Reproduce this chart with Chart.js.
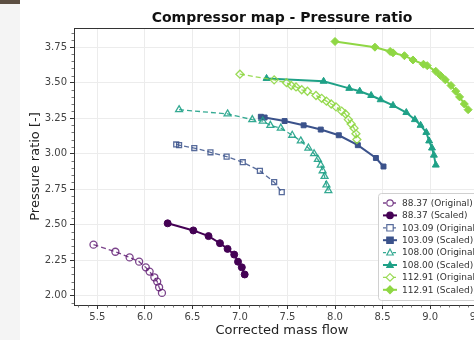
<!DOCTYPE html>
<html>
<head>
<meta charset="utf-8">
<script src="https://cdn.jsdelivr.net/npm/chart.js@4/dist/chart.umd.min.js"></script>
<style>
  html, body { margin: 0; padding: 0; background: #fff; overflow: hidden; }
  #wrap { position: relative; width: 474px; height: 340px; overflow: hidden; }
  #side { position: absolute; left: 0; top: 0; width: 20px; height: 340px; background: #f4f4f4; }
  #side-top { position: absolute; left: 0; top: 0; width: 20px; height: 4px; background: #5c4f42; }
  #box { position: absolute; left: 0; top: 0; width: 500px; height: 340px; }
</style>
</head>
<body>
<div id="wrap">
  <div id="side"></div>
  <div id="side-top"></div>
  <div id="box"><canvas id="map"></canvas></div>
</div>
<script>
// speed lines, original and scaled
const speedLabels = ['88.37', '103.09', '108.00', '112.91'];

const massFlow88Orig = [5.46, 5.69, 5.84, 5.94, 6.01, 6.05, 6.10, 6.13, 6.15, 6.18];
const ratio88Orig = [2.36, 2.31, 2.27, 2.24, 2.20, 2.17, 2.13, 2.10, 2.06, 2.02];
const massFlow88Scaled = [6.24, 6.51, 6.67, 6.79, 6.87, 6.94, 6.98, 7.02, 7.05];
const ratio88Scaled = [2.51, 2.46, 2.42, 2.37, 2.33, 2.29, 2.24, 2.20, 2.15];

const massFlow103Orig = [6.33, 6.36, 6.52, 6.69, 6.86, 7.03, 7.21, 7.36, 7.44];
const ratio103Orig = [3.065, 3.06, 3.04, 3.01, 2.98, 2.94, 2.88, 2.80, 2.73];
const massFlow103Scaled = [7.22, 7.26, 7.47, 7.67, 7.85, 8.04, 8.24, 8.43, 8.51];
const ratio103Scaled = [3.26, 3.255, 3.23, 3.20, 3.17, 3.13, 3.06, 2.97, 2.91];

const massFlow108Orig = [6.36, 6.87, 7.13, 7.24, 7.32, 7.43, 7.55, 7.64, 7.72, 7.78, 7.82, 7.85, 7.87, 7.89, 7.91, 7.93];
const ratio108Orig = [3.31, 3.28, 3.24, 3.23, 3.20, 3.18, 3.13, 3.09, 3.04, 3.00, 2.96, 2.92, 2.88, 2.84, 2.78, 2.74];
const massFlow108Scaled = [7.28, 7.88, 8.15, 8.26, 8.38, 8.48, 8.61, 8.75, 8.84, 8.90, 8.96, 8.99, 9.02, 9.04, 9.06];
const ratio108Scaled = [3.53, 3.51, 3.46, 3.44, 3.41, 3.38, 3.34, 3.29, 3.24, 3.20, 3.15, 3.09, 3.04, 2.99, 2.92];

const massFlow112Orig = [7.00, 7.36, 7.49, 7.54, 7.59, 7.65, 7.71, 7.80, 7.86, 7.91, 7.96, 8.01, 8.07, 8.11, 8.14, 8.17, 8.20, 8.22, 8.23];
const ratio112Orig = [3.56, 3.52, 3.50, 3.48, 3.47, 3.45, 3.44, 3.41, 3.39, 3.37, 3.35, 3.33, 3.30, 3.28, 3.24, 3.21, 3.18, 3.14, 3.10];
const massFlow112Scaled = [8.00, 8.42, 8.58, 8.61, 8.73, 8.82, 8.93, 8.97, 9.06, 9.11, 9.16, 9.22, 9.27, 9.31, 9.36, 9.40];
const ratio112Scaled = [3.79, 3.75, 3.72, 3.71, 3.69, 3.66, 3.63, 3.62, 3.58, 3.55, 3.52, 3.48, 3.44, 3.40, 3.35, 3.31];

const xTicks = [5.5, 6.0, 6.5, 7.0, 7.5, 8.0, 8.5, 9.0, 9.5];
const yTicks = [2.00, 2.25, 2.50, 2.75, 3.00, 3.25, 3.50, 3.75];

const colors = ['#440154', '#3b528b', '#1fa187', '#8fd744'];
const origColors = ['rgba(90,20,110,0.8)', 'rgba(59,82,139,0.85)', 'rgba(31,161,135,0.9)', 'rgba(143,215,68,0.9)'];
const markers = ['circle', 'rect', 'triangle', 'rectRot'];

function pts(xs, ys) {
    return xs.map((x, i) => ({ x: x, y: ys[i] }));
}

const seriesData = [
    [pts(massFlow88Orig, ratio88Orig), pts(massFlow88Scaled, ratio88Scaled)],
    [pts(massFlow103Orig, ratio103Orig), pts(massFlow103Scaled, ratio103Scaled)],
    [pts(massFlow108Orig, ratio108Orig), pts(massFlow108Scaled, ratio108Scaled)],
    [pts(massFlow112Orig, ratio112Orig), pts(massFlow112Scaled, ratio112Scaled)]
];

const datasets = [];
speedLabels.forEach((lbl, i) => {
    const r = markers[i] === 'triangle' || markers[i] === 'rectRot' ? 4 : 3.5;
    datasets.push({
        label: lbl + ' (Original)',
        data: seriesData[i][0],
        showLine: true,
        borderColor: origColors[i],
        borderWidth: 1.3,
        borderDash: [5, 3],
        pointStyle: markers[i],
        pointRadius: r,
        pointBorderWidth: 1.3,
        pointBorderColor: origColors[i],
        pointBackgroundColor: 'rgba(255,255,255,0)',
        order: 20 - datasets.length,
        isOrig: true,
        markColor: origColors[i]
    });
    datasets.push({
        label: lbl + ' (Scaled)',
        data: seriesData[i][1],
        showLine: true,
        borderColor: colors[i],
        borderWidth: 2,
        pointStyle: markers[i],
        pointRadius: r,
        pointBorderWidth: 1,
        pointBorderColor: colors[i],
        pointBackgroundColor: colors[i],
        order: 20 - datasets.length,
        isOrig: false,
        markColor: colors[i]
    });
});

function drawMarker(ctx, style, x, y, r, color, filled) {
    ctx.save();
    ctx.beginPath();
    if (style === 'circle') {
        ctx.arc(x, y, r, 0, Math.PI * 2);
    } else if (style === 'rect') {
        ctx.rect(x - r, y - r, r * 2, r * 2);
    } else if (style === 'triangle') {
        ctx.moveTo(x, y - r * 1.1);
        ctx.lineTo(x + r, y + r * 0.75);
        ctx.lineTo(x - r, y + r * 0.75);
        ctx.closePath();
    } else {
        ctx.moveTo(x, y - r * 1.2);
        ctx.lineTo(x + r * 1.2, y);
        ctx.lineTo(x, y + r * 1.2);
        ctx.lineTo(x - r * 1.2, y);
        ctx.closePath();
    }
    ctx.lineWidth = 1.2;
    ctx.strokeStyle = color;
    ctx.fillStyle = filled ? color : '#fff';
    ctx.fill();
    ctx.stroke();
    ctx.restore();
}

const mplExtras = {
    id: 'mplExtras',
    afterDraw(chart) {
        const ctx = chart.ctx;
        const a = chart.chartArea;
        const xs = chart.scales.x, ys = chart.scales.y;

        // frame
        ctx.save();
        ctx.strokeStyle = '#333';
        ctx.lineWidth = 1;
        ctx.strokeRect(Math.round(a.left) + 0.5, Math.round(a.top) + 0.5, Math.round(a.right - a.left), Math.round(a.bottom - a.top));

        // minor ticks
        ctx.strokeStyle = '#555';
        ctx.lineWidth = 0.8;
        for (let k = 53; k <= 96; k++) {
            if (k % 5 === 0) continue;
            const px = Math.round(xs.getPixelForValue(k / 10)) + 0.5;
            ctx.beginPath();
            ctx.moveTo(px, a.bottom);
            ctx.lineTo(px, a.bottom + 2.5);
            ctx.stroke();
        }
        for (let k = 39; k <= 77; k++) {
            if (k % 5 === 0) continue;
            const py = Math.round(ys.getPixelForValue(k / 20)) + 0.5;
            ctx.beginPath();
            ctx.moveTo(a.left, py);
            ctx.lineTo(a.left - 2.5, py);
            ctx.stroke();
        }

        // title
        ctx.fillStyle = '#111';
        ctx.font = 'bold 14px "DejaVu Sans"';
        ctx.textAlign = 'center';
        ctx.textBaseline = 'middle';
        ctx.fillText('Compressor map - Pressure ratio', (a.left + a.right) / 2, 18);

        // legend
        const lx = 378, ly = 193, lw = 120, lh = 107;
        ctx.fillStyle = 'rgba(255,255,255,0.85)';
        ctx.strokeStyle = '#d0d0d0';
        ctx.lineWidth = 1;
        ctx.beginPath();
        ctx.roundRect(lx + 0.5, ly + 0.5, lw, lh, 3);
        ctx.fill();
        ctx.stroke();
        ctx.font = '9px "DejaVu Sans"';
        ctx.textAlign = 'left';
        chart.data.datasets.forEach((ds, i) => {
            const y = 203 + i * 12.4;
            ctx.save();
            ctx.strokeStyle = ds.markColor;
            ctx.lineWidth = ds.isOrig ? 1.3 : 2;
            ctx.setLineDash(ds.isOrig ? [3, 2] : []);
            ctx.beginPath();
            ctx.moveTo(383, y);
            ctx.lineTo(397, y);
            ctx.stroke();
            ctx.restore();
            drawMarker(ctx, ds.pointStyle, 390, y, 3.2, ds.markColor, !ds.isOrig);
            ctx.fillStyle = '#333';
            ctx.fillText(ds.label, 402, y + 0.5);
        });
        ctx.restore();
    }
};

Chart.defaults.font.family = '"DejaVu Sans", sans-serif';
Chart.defaults.color = '#444';

new Chart(document.getElementById('map'), {
    type: 'scatter',
    data: { datasets: datasets },
    options: {
        responsive: true,
        maintainAspectRatio: false,
        animation: false,
        layout: { padding: { left: 22, right: 10, top: 28, bottom: 0 } },
        elements: { line: { tension: 0 } },
        plugins: {
            legend: { display: false },
            tooltip: { enabled: false },
            title: { display: false }
        },
        scales: {
            x: {
                type: 'linear',
                min: 5.255,
                max: 9.63,
                afterFit: s => { s.height = 35; },
                afterBuildTicks: s => { s.ticks = xTicks.map(v => ({ value: v })); },
                grid: { color: '#ececec', lineWidth: 1, tickColor: '#333', tickLength: 4 },
                border: { display: true, color: '#333' },
                ticks: {
                    font: { size: 10 },
                    color: '#444',
                    padding: 2,
                    maxRotation: 0,
                    callback: v => v.toFixed(1)
                },
                title: {
                    display: true,
                    text: 'Corrected mass flow',
                    font: { size: 13 },
                    color: '#222',
                    padding: { top: 0, bottom: 2 }
                }
            },
            y: {
                type: 'linear',
                min: 1.935,
                max: 3.885,
                afterFit: s => { s.width = 52; },
                afterBuildTicks: s => { s.ticks = yTicks.map(v => ({ value: v })); },
                grid: { color: '#ececec', lineWidth: 1, tickColor: '#333', tickLength: 4 },
                border: { display: true, color: '#333' },
                ticks: {
                    font: { size: 10 },
                    color: '#444',
                    padding: 3,
                    callback: v => v.toFixed(2)
                },
                title: {
                    display: true,
                    text: 'Pressure ratio [-]',
                    font: { size: 13 },
                    color: '#222',
                    padding: { top: 6, bottom: 0 }
                }
            }
        }
    },
    plugins: [mplExtras]
});
</script>
</body>
</html>
